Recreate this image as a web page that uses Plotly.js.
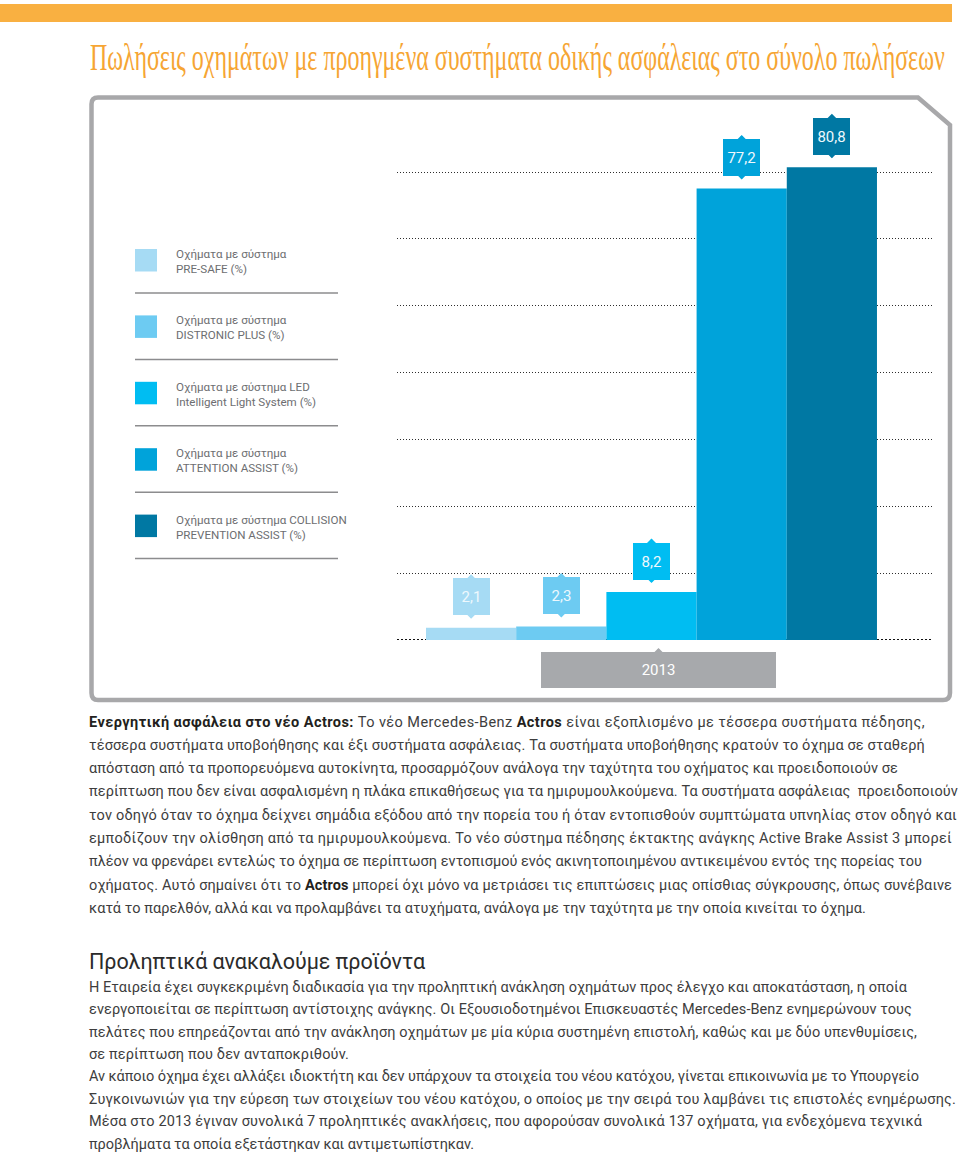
<!DOCTYPE html>
<html>
<head>
<meta charset="utf-8">
<script src="https://cdn.plot.ly/plotly-3.0.1.min.js"></script>
<style>
html,body{margin:0;padding:0;background:#fff;}
#wrap{position:relative;width:960px;height:1155px;overflow:hidden;background:#fff;}
#chart{position:absolute;left:0;top:0;width:960px;height:1155px;}
.txt{position:absolute;left:89px;font-family:Roboto,"Liberation Sans",sans-serif;font-size:14.5px;color:#3d3d3d;white-space:nowrap;}
.txt b{color:#231f20;font-weight:bold;}
.ln{display:block;width:max-content;}
#p1{top:710.5px;line-height:23.3px;}
#h2{top:949px;font-size:21.5px;line-height:26px;color:#2b2b2b;}
#p2{top:976.8px;line-height:22.4px;}
</style>
</head>
<body>
<div id="wrap">
<div id="chart"></div>
<div class="txt" id="p1">
<div class="ln" data-w="836"><b>Ενεργητική ασφάλεια στο νέο Actros:</b> Το νέο Mercedes-Benz <b>Actros</b> είναι εξοπλισμένο με τέσσερα συστήματα πέδησης,</div>
<div class="ln" data-w="836">τέσσερα συστήματα υποβοήθησης και έξι συστήματα ασφάλειας. Τα συστήματα υποβοήθησης κρατούν το όχημα σε σταθερή</div>
<div class="ln" data-w="809">απόσταση από τα προπορευόμενα αυτοκίνητα, προσαρμόζουν ανάλογα την ταχύτητα του οχήματος και προειδοποιούν σε</div>
<div class="ln" data-w="869">περίπτωση που δεν είναι ασφαλισμένη η πλάκα επικαθήσεως για τα ημιρυμουλκούμενα. Τα συστήματα ασφάλειας&nbsp; προειδοποιούν</div>
<div class="ln" data-w="868">τον οδηγό όταν το όχημα δείχνει σημάδια εξόδου από την πορεία του ή όταν εντοπισθούν συμπτώματα υπνηλίας στον οδηγό και</div>
<div class="ln" data-w="863">εμποδίζουν την ολίσθηση από τα ημιρυμουλκούμενα. Το νέο σύστημα πέδησης έκτακτης ανάγκης Active Brake Assist 3 μπορεί</div>
<div class="ln" data-w="833">πλέον να φρενάρει εντελώς το όχημα σε περίπτωση εντοπισμού ενός ακινητοποιημένου αντικειμένου εντός της πορείας του</div>
<div class="ln" data-w="863">οχήματος. Αυτό σημαίνει ότι το <b>Actros</b> μπορεί όχι μόνο να μετριάσει τις επιπτώσεις μιας οπίσθιας σύγκρουσης, όπως συνέβαινε</div>
<div class="ln" data-w="777">κατά το παρελθόν, αλλά και να προλαμβάνει τα ατυχήματα, ανάλογα με την ταχύτητα με την οποία κινείται το όχημα.</div>
</div>
<div class="txt" id="h2"><div class="ln" data-w="336">Προληπτικά ανακαλούμε προϊόντα</div></div>
<div class="txt" id="p2">
<div class="ln" data-w="818">Η Εταιρεία έχει συγκεκριμένη διαδικασία για την προληπτική ανάκληση οχημάτων προς έλεγχο και αποκατάσταση, η οποία</div>
<div class="ln" data-w="823">ενεργοποιείται σε περίπτωση αντίστοιχης ανάγκης. Οι Εξουσιοδοτημένοι Επισκευαστές Mercedes-Benz ενημερώνουν τους</div>
<div class="ln" data-w="828">πελάτες που επηρεάζονται από την ανάκληση οχημάτων με μία κύρια συστημένη επιστολή, καθώς και με δύο υπενθυμίσεις,</div>
<div class="ln" data-w="260">σε περίπτωση που δεν ανταποκριθούν.</div>
<div class="ln" data-w="830">Αν κάποιο όχημα έχει αλλάξει ιδιοκτήτη και δεν υπάρχουν τα στοιχεία του νέου κατόχου, γίνεται επικοινωνία με το Υπουργείο</div>
<div class="ln" data-w="867">Συγκοινωνιών για την εύρεση των στοιχείων του νέου κατόχου, ο οποίος με την σειρά του λαμβάνει τις επιστολές ενημέρωσης.</div>
<div class="ln" data-w="833">Μέσα στο 2013 έγιναν συνολικά 7 προληπτικές ανακλήσεις, που αφορούσαν συνολικά 137 οχήματα, για ενδεχόμενα τεχνικά</div>
<div class="ln" data-w="385">προβλήματα τα οποία εξετάστηκαν και αντιμετωπίστηκαν.</div>
</div>
</div>
<script>
// ---- data ----
const chartTitle = 'Πωλήσεις οχημάτων με προηγμένα συστήματα οδικής ασφάλειας στο σύνολο πωλήσεων';
const year = '2013';
const seriesLabels = [
  'Οχήματα με σύστημα<br>PRE-SAFE (%)',
  'Οχήματα με σύστημα<br>DISTRONIC PLUS (%)',
  'Οχήματα με σύστημα LED<br>Intelligent Light System (%)',
  'Οχήματα με σύστημα<br>ATTENTION ASSIST (%)',
  'Οχήματα με σύστημα COLLISION<br>PREVENTION ASSIST (%)'
];
const values = [2.1, 2.3, 8.2, 77.2, 80.8];
const colors = ['#a6dbf4', '#6dcbf2', '#00bdf2', '#00a3da', '#0078a3'];

// ---- helpers (pixel -> paper) ----
const W = 960, H = 1155;
const px = x => x / W;
const py = y => 1 - y / H;
const names = seriesLabels.map(s => s.replace('<br>', ' '));
const fmt = v => v.toFixed(1).replace('.', ',');

const traces = values.map((v, i) => ({
  type: 'bar',
  name: names[i],
  x: [names[i]],
  y: [v],
  width: [1],
  marker: {color: colors[i], line: {width: 0}},
  hoverinfo: 'skip',
  showlegend: false
}));

const shapes = [];
const annotations = [];

// orange band
shapes.push({type: 'rect', xref: 'paper', yref: 'paper', x0: 0, x1: px(952), y0: py(4), y1: py(22),
  fillcolor: '#f9b041', line: {width: 0}, layer: 'below'});

// frame with cut corner
const fpath = 'M' + px(91.5) + ',' + py(104) +
  ' Q' + px(91.5) + ',' + py(97.5) + ' ' + px(98) + ',' + py(97.5) +
  ' L' + px(918) + ',' + py(97.5) +
  ' L' + px(950) + ',' + py(125) +
  ' L' + px(950) + ',' + py(693) +
  ' Q' + px(950) + ',' + py(700) + ' ' + px(943) + ',' + py(700) +
  ' L' + px(98) + ',' + py(700) +
  ' Q' + px(91.5) + ',' + py(700) + ' ' + px(91.5) + ',' + py(693) + ' Z';
shapes.push({type: 'path', xref: 'paper', yref: 'paper', path: fpath,
  line: {color: '#a8a8aa', width: 4.5}, fillcolor: 'rgba(0,0,0,0)', layer: 'below'});

// baseline (bold dotted)
shapes.push({type: 'line', xref: 'paper', yref: 'y', x0: px(397), x1: px(932), y0: 0, y1: 0,
  line: {color: '#111111', width: 2, dash: '2px,2px'}, layer: 'below'});

// custom legend
seriesLabels.forEach((lab, i) => {
  const top = 249 + i * 66.4;
  shapes.push({type: 'rect', xref: 'paper', yref: 'paper', x0: px(135), x1: px(157), y0: py(top), y1: py(top + 22.5),
    fillcolor: colors[i], line: {width: 0}});
  shapes.push({type: 'line', xref: 'paper', yref: 'paper', x0: px(135), x1: px(338), y0: py(top + 44), y1: py(top + 44),
    line: {color: '#8c8c8e', width: 1.5}});
  annotations.push({xref: 'paper', yref: 'paper', x: px(174), y: py(top + 12.5), xanchor: 'left', yanchor: 'middle',
    align: 'left', showarrow: false, text: lab,
    font: {family: 'Roboto, Liberation Sans, sans-serif', size: 11.6, color: '#6d6e71'}});
});

// value tags
values.forEach((v, i) => {
  annotations.push({xref: 'x', yref: 'y', x: names[i], y: v, yshift: 9, axref: 'pixel', ayref: 'pixel', ax: 0, ay: -22,
    text: fmt(v), showarrow: true, arrowhead: 1, arrowsize: 1, arrowwidth: 2, arrowcolor: colors[i], standoff: 0,
    bgcolor: colors[i], width: 37, height: 37, borderpad: 0, borderwidth: 0,
    font: {family: 'Roboto, Liberation Sans, sans-serif', size: 15, color: '#eef8fd'}});
  annotations.push({xref: 'x', yref: 'y', x: names[i], y: v, yshift: 9 + 44.5, axref: 'pixel', ayref: 'pixel', ax: 0, ay: 22,
    text: ' ', showarrow: true, arrowhead: 1, arrowsize: 1, arrowwidth: 2, arrowcolor: colors[i], standoff: 0,
    bgcolor: 'rgba(0,0,0,0)', width: 37, height: 37, borderpad: 0, borderwidth: 0,
    font: {family: 'Roboto', size: 15, color: 'rgba(0,0,0,0)'}});
});

// year tag
annotations.push({xref: 'paper', yref: 'paper', x: px(658.5), y: py(648), axref: 'pixel', ayref: 'pixel', ax: 0, ay: 22,
  text: year, showarrow: true, arrowhead: 1, arrowsize: 1, arrowwidth: 2, arrowcolor: '#a7a9ac', standoff: 0,
  bgcolor: '#a7a9ac', width: 235, height: 36, borderpad: 0, borderwidth: 0,
  font: {family: 'Roboto, Liberation Sans, sans-serif', size: 15, color: '#ffffff'}});

const layout = {
  width: W, height: H, autosize: false,
  margin: {l: 0, r: 0, t: 0, b: 0, pad: 0},
  paper_bgcolor: 'rgba(255,255,255,0)',
  plot_bgcolor: 'rgba(0,0,0,0)',
  barmode: 'overlay',
  showlegend: false,
  title: {text: chartTitle, x: px(90), xanchor: 'left', xref: 'paper', y: py(57), yanchor: 'middle', yref: 'paper',
    font: {family: 'Liberation Serif, Times New Roman, serif', size: 37, color: '#f6a533'}},
  xaxis: {type: 'category', domain: [px(397), px(932)], range: [-0.8215, 5.11],
    showticklabels: false, showgrid: false, zeroline: false, showline: false, ticks: '', fixedrange: true},
  yaxis: {domain: [py(640), py(110)], range: [0, 90.6], tick0: 0, dtick: 80 / 7,
    showticklabels: false, showgrid: true, gridcolor: '#2e2e2e', gridwidth: 1, griddash: '1px,2px',
    zeroline: false, showline: false, ticks: '', fixedrange: true},
  shapes: shapes,
  annotations: annotations,
  hovermode: false
};

function fitLines() {
  document.querySelectorAll('.ln').forEach(el => {
    el.style.letterSpacing = '0px';
    const target = +el.dataset.w;
    const w = el.getBoundingClientRect().width;
    const n = el.textContent.length;
    if (n > 0) el.style.letterSpacing = ((target - w) / n).toFixed(3) + 'px';
  });
}

Plotly.newPlot('chart', traces, layout, {displayModeBar: false, staticPlot: true}).then(() => {
  // condense the title horizontally to match the narrow serif face of the original
  const g = document.querySelector('.g-gtitle');
  const t = g && g.querySelector('text');
  if (t) {
    const bb = t.getBBox();
    const s = 855 / bb.width;
    g.setAttribute('transform', 'matrix(' + s + ',0,0,1,' + (bb.x * (1 - s)) + ',0)');
  }
});
fitLines();
if (document.fonts && document.fonts.ready) document.fonts.ready.then(fitLines);
</script>
</body>
</html>
